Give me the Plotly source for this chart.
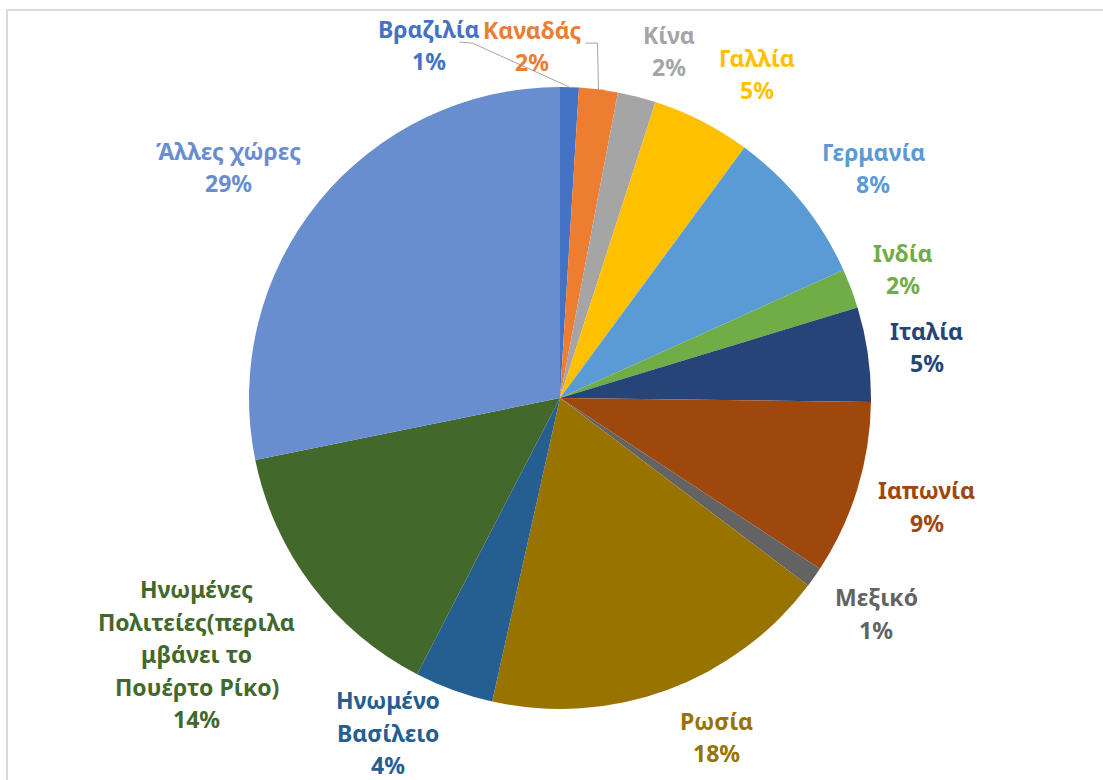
import math
import plotly.graph_objects as go

# ---- data ----
countries = ["Βραζιλία", "Καναδάς", "Κίνα", "Γαλλία", "Γερμανία", "Ινδία", "Ιταλία",
             "Ιαπωνία", "Μεξικό", "Ρωσία", "Ηνωμένο Βασίλειο",
             "Ηνωμένες Πολιτείες(περιλαμβάνει το Πουέρτο Ρίκο)", "Άλλες χώρες"]
# slice sizes (percent of total)
shares = [0.97, 2.01, 1.99, 5.13, 8.15, 2.05, 4.90, 9.05, 1.05, 18.2, 4.10, 14.2, 28.2]
# percentage labels as printed on the chart
pct_labels = ["1%", "2%", "2%", "5%", "8%", "2%", "5%", "9%", "1%", "18%", "4%", "14%", "29%"]

# ---- style ----
colors = ["#4472C4", "#ED7D31", "#A5A5A5", "#FFC000", "#5B9BD5", "#70AD47", "#264478",
          "#9E480E", "#636363", "#997300", "#255E91", "#43682B", "#698ED0"]
wrapped = {
    "Ηνωμένο Βασίλειο": ["Ηνωμένο", "Βασίλειο"],
    "Ηνωμένες Πολιτείες(περιλαμβάνει το Πουέρτο Ρίκο)":
        ["Ηνωμένες", "Πολιτείες(περιλα", "μβάνει το", "Πουέρτο Ρίκο)"],
}
# label placement: (angle shift in degrees, radius factor)
label_pos = [(-22.05, 1.21), (-11.6, 1.135), (3.1, 1.17), (4.2, 1.22), (2.7, 1.25),
             (0.0, 1.18), (0.2, 1.19), (-0.5, 1.23), (-0.9, 1.23), (-4.6, 1.20),
             (7.2, 1.21), (1.9, 1.43), (-4.4, 1.30)]

W, H = 1103, 780
CX, CY, R = 560, 398, 311
FONT = "Noto Sans"
FS = 23
LH = 32.5

fig = go.Figure()
fig.add_trace(go.Pie(
    labels=countries, values=shares, sort=False, direction="clockwise", rotation=0,
    marker=dict(colors=colors, line=dict(width=0)),
    textinfo="none", hoverinfo="skip", showlegend=False,
    domain=dict(x=[(CX - R) / W, (CX + R) / W], y=[1 - (CY + R) / H, 1 - (CY - R) / H]),
))

total = sum(shares)
cum = 0
annotations = []
shapes = []
edge_pts = []
label_ctr = []
for i, (name, v) in enumerate(zip(countries, shares)):
    mid = (cum + v / 2) / total * 360
    cum += v
    ex = CX + R * math.sin(math.radians(mid))
    ey = CY - R * math.cos(math.radians(mid))
    edge_pts.append((ex, ey))
    dth, f = label_pos[i]
    th = math.radians(mid + dth)
    lx = CX + f * R * math.sin(th)
    ly = CY - f * R * math.cos(th)
    label_ctr.append((lx, ly))
    lines = wrapped.get(name, [name]) + [pct_labels[i]]
    n = len(lines)
    for k, ln in enumerate(lines):
        annotations.append(dict(
            x=lx, y=ly + (k - (n - 1) / 2) * LH, xref="x", yref="y",
            text=f"<b>{ln}</b>", showarrow=False,
            xanchor="center", yanchor="middle", align="center",
            font=dict(family=FONT, size=FS, color=colors[i]),
        ))

# leader lines for Brazil and Canada
line_style = dict(color="#A6A6A6", width=1)
bx, by = label_ctr[0]
p0 = (bx + 30, by - 3)
p1 = (p0[0] + 13, p0[1] + 1)
ex, ey = edge_pts[0]
shapes.append(dict(type="path", xref="x", yref="y",
                   path=f"M{p0[0]},{p0[1]} L{p1[0]},{p1[1]} L{ex},{ey}", line=line_style))
kx, ky = label_ctr[1]
q0 = (kx + 53, ky - 3)
ex, ey = edge_pts[1]
q1 = (ex - 1, q0[1])
shapes.append(dict(type="path", xref="x", yref="y",
                   path=f"M{q0[0]},{q0[1]} L{q1[0]},{q1[1]} L{ex},{ey}", line=line_style))

# chart-area border (only top/left visible)
shapes.append(dict(type="rect", xref="x", yref="y", x0=7, y0=10, x1=W + 20, y1=H + 20,
                   line=dict(color="#D9D9D9", width=2), fillcolor="rgba(0,0,0,0)", layer="below"))

fig.update_layout(
    width=W, height=H, margin=dict(l=0, r=0, t=0, b=0),
    paper_bgcolor="white", plot_bgcolor="rgba(0,0,0,0)",
    xaxis=dict(range=[0, W], visible=False, fixedrange=True),
    yaxis=dict(range=[H, 0], visible=False, fixedrange=True),
    annotations=annotations, shapes=shapes,
)

fig.write_html("out.html")
